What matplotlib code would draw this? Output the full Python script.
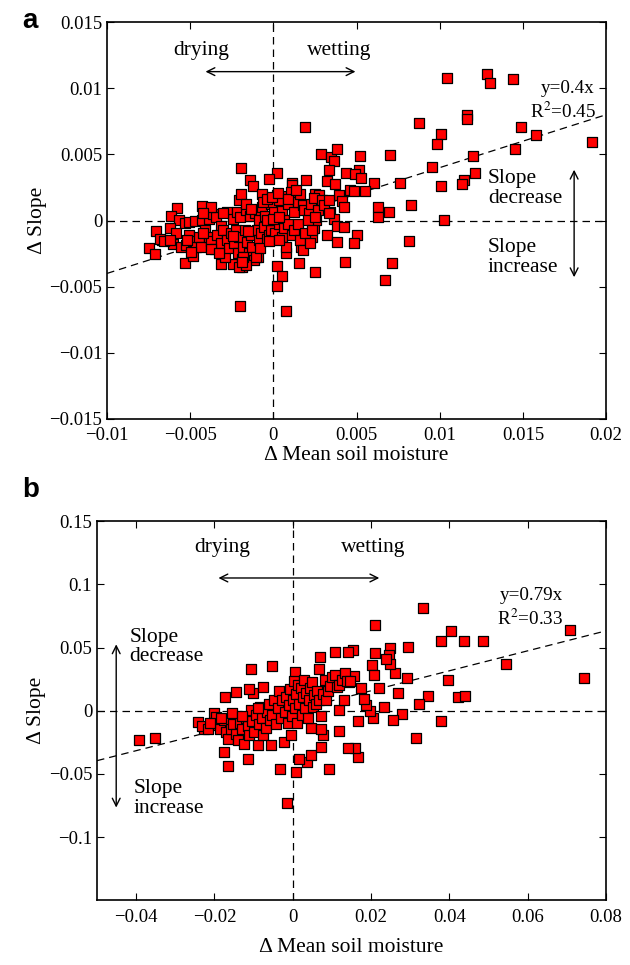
import matplotlib
matplotlib.use('Agg')
import matplotlib.pyplot as plt
import numpy as np

plt.rcParams['font.family'] = ['Liberation Serif', 'DejaVu Serif']
plt.rcParams['mathtext.fontset'] = 'stix'

# panel a values, in units of 1e-3
a_x = np.array([
    10.41, 12.84, 13.03, 14.39, 8.74, 11.65, 11.65, 10.05, 9.83, 14.90, 15.78, 19.17,
    14.54, 11.97, 9.51, 12.11, 11.43, 11.36, 10.05, 8.30, 10.24, 8.13, 7.11, 6.72,
    7.59, 6.99, 6.07, 6.29, 6.97, 6.31, 5.53, 5.22, 1.89, 2.84, 3.47, 3.81, 3.66,
    3.33, 4.34, 5.12, 4.88, 5.24, 3.23, 3.69, 4.59, 4.85, 3.96, 4.13, 4.27, 3.40,
    3.62, 3.83, 4.22, 3.23, 3.83, 5.00, 4.85, 4.32, 2.50, 1.53, 0.19, 0.51, 0.19,
    0.78, -1.99, 1.97, 1.14, 0.24, -0.27, -1.92, -1.41, -1.21, -0.70, -5.78, -4.32,
    -6.14, -7.04, -7.50, -7.11, -6.72, -6.02, -5.29, -4.83, -3.18, -2.43, -1.89,
    -0.95, 0.78, 1.65, 2.33, 2.43, 2.52, 2.72, 0.61, 1.09,
    -5.70, -5.34, -5.10, -4.73, -4.30, -3.88, -3.64, -3.45, -3.16, -2.79, -2.43,
    -2.21, -2.01, -1.67, -1.38, -1.09, -0.85, -0.66, -0.49, -0.17, 0.02, 0.22, 0.36,
    0.49, 0.61, 0.90, 1.04, 1.26, 1.46, 1.58, 1.77, 1.82, 2.11, 2.26, 2.43, 2.55,
    2.67, 2.91, 3.03, 3.33, 3.37,
    -6.84, -6.60, -6.19, -5.83, -5.58, -5.27, -5.10, -4.85, -4.68, -4.49, -4.37,
    -4.13, -3.88, -3.76, -3.52, -3.37, -3.16, -3.03, -2.91, -2.79, -2.65, -2.55,
    -2.35, -2.26, -2.11, -2.06, -1.87, -1.82, -1.70, -1.58, -1.48, -1.33, -1.29,
    -1.14, -0.97, -0.85, -0.73, -0.56, -0.36, -0.24, -0.12, 0.12, 0.32, 0.49, 0.61,
    0.73, 0.90, 1.09, 1.21, 1.46, 1.58, 1.77, 1.87, 2.06, 2.18, 2.31, 2.50, -2.06,
    -1.65, -1.82, -1.87, -1.04, -3.76, -4.97, -6.24, -5.22, -4.25, -3.28, -2.43,
    -1.53, -0.80, -0.24, 0.32, -0.41, 0.00, 0.36,
    -2.06, -1.94, -1.63, -1.33, -0.61, -0.36, -0.07, 0.27, 0.85, 1.33, -3.76, -3.03,
    -4.25,
])
a_y = np.array([
    10.75, 11.08, 10.40, 10.70, 7.41, 7.96, 7.71, 6.51, 5.75, 7.04, 6.46, 5.93,
    5.43, 4.87, 4.05, 3.59, 3.04, 2.79, 2.64, 1.16, 0.05, -1.53, -3.19, -4.47,
    2.86, 4.92, 2.86, 1.03, 0.65, 0.25, 2.24, 4.87, 7.11, 5.00, 4.80, 5.38, 4.47,
    3.79, 3.59, 3.79, 3.49, 3.22, 2.99, 2.79, 2.29, 2.24, 1.91, 1.46, 1.03, 0.63,
    0.15, -0.40, -0.48, -1.13, -1.63, -1.13, -1.73, -3.17, -3.89, -3.19, -3.44, -4.17, -4.97,
    -6.86, -6.46, 3.04, 2.84, 3.59, 3.17, 4.00, 3.04, 2.59, 2.04, 0.98, 1.08,
    0.33, -0.78, -2.11, -2.54, -1.48, -1.78, -3.24, -2.69, -3.32, -3.29, -3.49,
    -2.79, -2.49, -1.98, -1.23, -0.60, 1.98, 1.91, 1.83, 2.66,
    0.03, -0.18, -0.08, -0.03, 0.03, 0.13, 0.48, 0.28, -0.38, 0.65, 0.08,
    0.68, 0.28, 0.83, 0.33, 0.53, 0.03, 1.03, 0.33, 1.23, 0.63, 1.91, 1.53,
    0.73, 0.03, 1.28, 2.16, 0.65, 1.41, 1.98, 1.16, 0.78, 0.53, 1.28, 1.73, 0.03,
    0.83, 1.53, 1.16, 1.58, 0.53,
    -1.38, -1.58, -0.60, -0.98, -1.98, -1.86, -1.06, -1.53, -2.04, -1.28, -1.98,
    -0.73, -1.23, -1.58, -2.14, -1.11, -1.73, -0.73, -2.74, -1.48, -2.11, -0.98,
    -1.73, -0.73, -2.49, -1.28, -2.94, -1.98, -0.73, -1.61, -2.49, -1.11, -1.98,
    -2.99, -0.73, -1.48, -0.98, -0.48, -1.43, -1.11, -0.73, -0.98, -0.23, -1.28, -0.60,
    -1.98, -0.23, -1.11, -0.73, -0.28, -1.48, -2.24, -0.98, 0.03, -1.73, -0.73, 0.28, -3.49,
    -3.37, -2.79, -3.12, -2.74, -2.19, -2.36, -1.48, -1.48, -0.98, -2.49, -1.18,
    -0.78, -2.11, -1.58, -1.48, 0.03, 0.08, 0.28,
    1.53, 2.04, 1.23, 0.90, 1.41, 1.66, 1.78, 2.09, 1.66, 2.29, 1.03, 0.58,
    0.53,
])

# panel b values, in units of 1e-2
b_x = np.array([
    3.32, 2.09, 7.07, 4.03, 3.79, 4.37, 4.87, 2.95, 2.49, 2.46, 2.09, 1.53, 1.40,
    1.08, 0.70, 0.67, -0.52, -1.07, 5.44, 7.43, 3.96, 2.92, 2.61, 2.47, 2.38, 2.01,
    2.07, 2.20, 2.69, 3.44, 4.21, 4.39, 3.23, 2.33, 3.78, 3.15, 2.78, 2.56, 2.04,
    1.97, 1.87, 1.81, 1.74, 1.67, 1.66, 1.59, 1.40, 0.93, 0.36, 0.47, 0.16, 0.08,
    -0.16, -0.32, -1.15, -1.65, -1.75, -3.94, -3.52, -1.73, -1.45, -1.02, -0.76,
    -1.12, 0.05, 1.17, 0.78, 0.72, 0.47, 0.73, 1.17, 1.30, 1.43, 1.56,
    -2.41, -2.26, -2.33, -2.16, -2.02, -1.97, -1.92, -1.87, -1.76, -1.71, -1.66,
    -1.59, -1.52, -1.45, -1.40, -1.35, -1.30, -1.24, -1.19, -1.14, -1.11, -1.07,
    -1.04, -0.98, -0.93, -0.90, -0.86, -0.83, -0.78, -0.76, -0.69, -0.67, -0.62,
    -0.59, -0.55, -0.52, -0.47, -0.44, -0.38, -0.36, -0.31, -0.28, -0.23, -0.21,
    -0.18, -0.13, -0.10, -0.07, -0.05, -0.03, 0.00, 0.03, 0.05, 0.08, 0.11, 0.13,
    0.16, 0.20, 0.23, 0.26, 0.29, 0.31, 0.34, 0.38, 0.41, 0.45, 0.49, 0.52, 0.55,
    0.59, 0.62, 0.67, 0.73, 0.78, 0.81, 0.86, 0.90, 0.96, 1.01, 1.07, 1.12, 1.19,
    1.25, 1.33, 1.38, 1.45,
    -1.55, -1.30, -0.88, -2.12, -1.83,
])
b_y = np.array([
    8.11, 6.75, 6.40, 6.30, 5.49, 5.52, 5.49, 5.01, 4.99, 4.43, 4.53, 4.79, 4.63,
    4.66, 4.28, 3.32, 3.50, 3.30, 3.73, 2.59, 2.42, 2.59, 3.02, 3.68, 4.08, 3.63,
    2.82, 1.81, 1.44, 1.13, 1.06, 1.18, 0.50, 0.30, -0.81, -2.12, -0.28, -0.71, -0.60,
    0.00, 0.43, 0.93, 1.76, -0.81, -3.65, -2.92, -2.92, -4.61, -4.06, -3.53, -3.85, -4.84,
    -7.33, -4.58, -3.80, -4.36, -3.30, -2.29, -2.17, 1.06, 1.51, 1.44, 1.84,
    1.69, 3.05, -1.59, -1.96, -2.85, -1.34, -1.46, 0.05, 0.81, 2.27, 2.77,
    -0.91, -1.46, -1.21, -1.46, -0.20, -0.50, -1.16, -1.41, -0.76, -1.71, -2.22,
    -1.46, -1.08, -1.84, -2.34, -0.96, -1.46, -2.64, -0.58, -1.21, -1.96, 0.05,
    -0.83, -1.71, -0.33, -2.72, -1.08, 0.30, -0.58, -1.96, -1.34, -0.08, 0.55,
    -0.76, -2.72, -0.33, 0.81, -1.08, 0.18, 1.56, -0.58, 0.81, -2.47, -0.08,
    1.06, -0.96, 0.43, 1.69, -1.96, -0.45, 0.81, 2.32, 0.18, 1.31, -0.96, 2.07,
    0.55, 1.81, -0.33, 1.06, 2.44, 0.18, 1.44, -0.58, 0.81, 1.81, 2.27, 0.30, 1.26,
    0.55, 1.56, 0.81, -0.45, 1.31, 2.44, 0.81, 1.56, 1.94, 2.70, 2.82, 1.86, 2.07,
    2.44, 2.95, 2.32, 2.32,
    -0.20, -0.45, 0.18, -0.96, -0.58,
])

xlabel = '\u0394 Mean soil moisture'
ylabel = '\u0394 Slope'


def panel(ax, x, y, k, xlim, ylim, xticks, yticks, xpad):
    ax.set_xlim(xlim)
    ax.set_ylim(ylim)
    xx = np.array(xlim)
    ax.plot(xx, k * xx, color='black', lw=0.9, ls=(0, (6, 4)), zorder=1)
    ax.axhline(0, color='black', lw=0.9, ls=(0, (6, 4)), zorder=1)
    ax.axvline(0, color='black', lw=0.9, ls=(0, (6, 4)), zorder=1)
    ax.scatter(x, y, marker='s', s=42, facecolor='#ff0000', edgecolor='black',
               linewidth=0.9, zorder=3)
    ax.set_xticks(xticks)
    ax.set_yticks(yticks)
    ax.set_xticklabels([('%g' % t).replace('-', '\u2212') for t in xticks])
    ax.set_yticklabels([('%g' % t).replace('-', '\u2212') for t in yticks])
    ax.tick_params(direction='in', top=True, right=True, labelsize=13.5,
                   length=5, width=0.8)
    ax.tick_params(axis='x', pad=6)
    for s in ax.spines.values():
        s.set_linewidth(1.2)
    ax.set_xlabel(xlabel, fontsize=15.5, labelpad=xpad)
    ax.set_ylabel(ylabel, fontsize=15.5, labelpad=2)


fig = plt.figure(figsize=(6.3, 9.65), dpi=100)

# panel a
ax1 = fig.add_axes([0.170, 0.566, 0.792, 0.411])
panel(ax1, a_x * 1e-3, a_y * 1e-3, 0.4, (-0.01, 0.02), (-0.015, 0.015),
      [-0.01, -0.005, 0, 0.005, 0.01, 0.015, 0.02],
      [-0.015, -0.01, -0.005, 0, 0.005, 0.01, 0.015], 1.5)
ax1.text(-0.00432, 0.01284, 'drying', ha='center', va='center', fontsize=15.5)
ax1.text(0.00396, 0.01284, 'wetting', ha='center', va='center', fontsize=15.5)
ax1.annotate('', xy=(-0.00425, 0.01126), xytext=(0.0051, 0.01126),
             arrowprops=dict(arrowstyle='<->', color='black', lw=1, mutation_scale=14))
ax1.text(0.0193, 0.0100, 'y=0.4x', ha='right', va='center', fontsize=13.8)
ax1.text(0.0194, 0.00824, 'R$^2$=0.45', ha='right', va='center', fontsize=13.8)
ax1.text(0.0129, 0.0024, 'Slope\ndecrease', ha='left', va='center', fontsize=15.5,
         linespacing=1.05)
ax1.text(0.0129, -0.0028, 'Slope\nincrease', ha='left', va='center', fontsize=15.5,
         linespacing=1.05)
ax1.annotate('', xy=(0.01808, 0.00405), xytext=(0.01808, -0.0045),
             arrowprops=dict(arrowstyle='<->', color='black', lw=1, mutation_scale=14))
fig.text(0.035, 0.978, 'a', fontsize=20, fontweight='bold', family='Liberation Sans',
         va='center')

# panel b
ax2 = fig.add_axes([0.154, 0.067, 0.808, 0.393])
panel(ax2, b_x * 1e-2, b_y * 1e-2, 0.79, (-0.05, 0.08), (-0.15, 0.15),
      [-0.04, -0.02, 0, 0.02, 0.04, 0.06, 0.08],
      [-0.1, -0.05, 0, 0.05, 0.1, 0.15], 9)
ax2.text(-0.0181, 0.129, 'drying', ha='center', va='center', fontsize=15.5)
ax2.text(0.0204, 0.129, 'wetting', ha='center', va='center', fontsize=15.5)
ax2.annotate('', xy=(-0.0197, 0.105), xytext=(0.0228, 0.105),
             arrowprops=dict(arrowstyle='<->', color='black', lw=1, mutation_scale=14))
ax2.text(0.0689, 0.0912, 'y=0.79x', ha='right', va='center', fontsize=13.8)
ax2.text(0.0690, 0.0730, 'R$^2$=0.33', ha='right', va='center', fontsize=13.8)
ax2.text(-0.0418, 0.0504, 'Slope\ndecrease', ha='left', va='center', fontsize=15.5,
         linespacing=1.05)
ax2.text(-0.0406, -0.0693, 'Slope\nincrease', ha='left', va='center', fontsize=15.5,
         linespacing=1.05)
ax2.annotate('', xy=(-0.0451, 0.0547), xytext=(-0.0451, -0.0788),
             arrowprops=dict(arrowstyle='<->', color='black', lw=1, mutation_scale=14))
fig.text(0.035, 0.492, 'b', fontsize=20, fontweight='bold', family='Liberation Sans',
         va='center')

fig.savefig('out.png', dpi=100)
